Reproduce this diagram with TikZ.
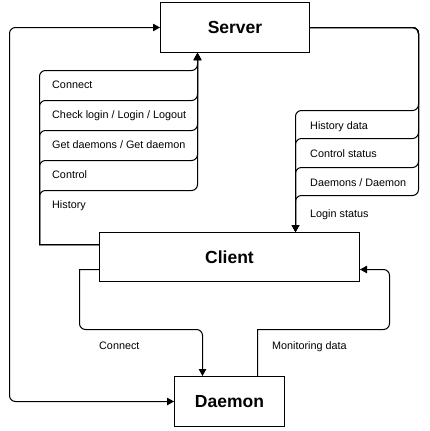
\documentclass[tikz,border=0pt]{standalone}
\usepackage{fontspec}
\setmainfont{Liberation Sans}
\usetikzlibrary{arrows.meta}
\begin{document}
\begin{tikzpicture}[x=1pt,y=-1pt,
  box/.style={draw, line width=1pt, inner sep=0pt, font=\fontsize{17.5}{20}\selectfont\bfseries},
  conn/.style={line width=1pt},
  tip/.tip={Triangle[length=7pt,width=7.5pt]},
  arr/.style={conn, -tip},
  lbl/.style={anchor=base west, inner sep=0pt, font=\fontsize{10.8}{12}\selectfont}]
\useasboundingbox (0,0) rectangle (429,431);
\node[box, minimum width=149pt, minimum height=50pt] (server) at (235,27.5) {Server};
\node[box, minimum width=260pt, minimum height=49pt] (client) at (229.5,257) {Client};
\node[box, minimum width=110pt, minimum height=50pt] (daemon) at (229.5,401.5) {Daemon};
% helper coordinates
\coordinate (oL) at (9.5,0);
\coordinate (cl) at (0,244.5);
\coordinate (bx) at (197.5,0);
\coordinate (sr) at (418.5,0);
\coordinate (cx) at (295.5,0);
\coordinate (c1) at (0,269.5);
\coordinate (dx1) at (202.5,0);
\coordinate (dx2) at (257.5,0);
% outer loop server <-> daemon
\draw[conn, rounded corners=6pt, tip-tip] (daemon.west) -| (oL |- server.west) -- (server.west);
% client -> server bundle
\foreach \y in {70.5,100.5,130.5,160.5,190.5}{
  \draw[arr] (client.west |- cl) -- (39.5,244.5) [rounded corners=6pt] -- (39.5,\y) -- (197.5,\y) -- (bx |- server.south);
}
\node[lbl] (l1) at (52,88) {Connect};
\node[lbl] (l2) at (52,118) {Check login / Login / Logout};
\node[lbl] (l3) at (52,148) {Get daemons / Get daemon};
\node[lbl] (l4) at (52,178) {Control};
\node[lbl] (l5) at (52,208) {History};
% server -> client bundle
\foreach \y in {110.5,138.5,167.5,195.5}{
  \draw[arr, rounded corners=6pt] (server.east) -- (sr |- server.east) -- (418.5,\y) -- (295.5,\y) -- (cx |- client.north);
}
\node[lbl] (r1) at (310,129) {History data};
\node[lbl] (r2) at (310,157.5) {Control status};
\node[lbl] (r3) at (310,186) {Daemons / Daemon};
\node[lbl] (r4) at (310,217) {Login status};
% client -> daemon
\draw[arr] (client.west |- c1) -- (79.5,269.5) [rounded corners=6pt] -- (79.5,329.5) -- (202.5,329.5) -- (dx1 |- daemon.north);
\node[lbl] (b1) at (99,349) {Connect};
% daemon -> client
\draw[arr] (dx2 |- daemon.north) -- (257.5,329.5) [rounded corners=6pt] -- (389.5,329.5) -- (389.5,269.5) -- (client.east |- c1);
\node[lbl] (b2) at (272,349) {Monitoring data};
\end{tikzpicture}
\end{document}
